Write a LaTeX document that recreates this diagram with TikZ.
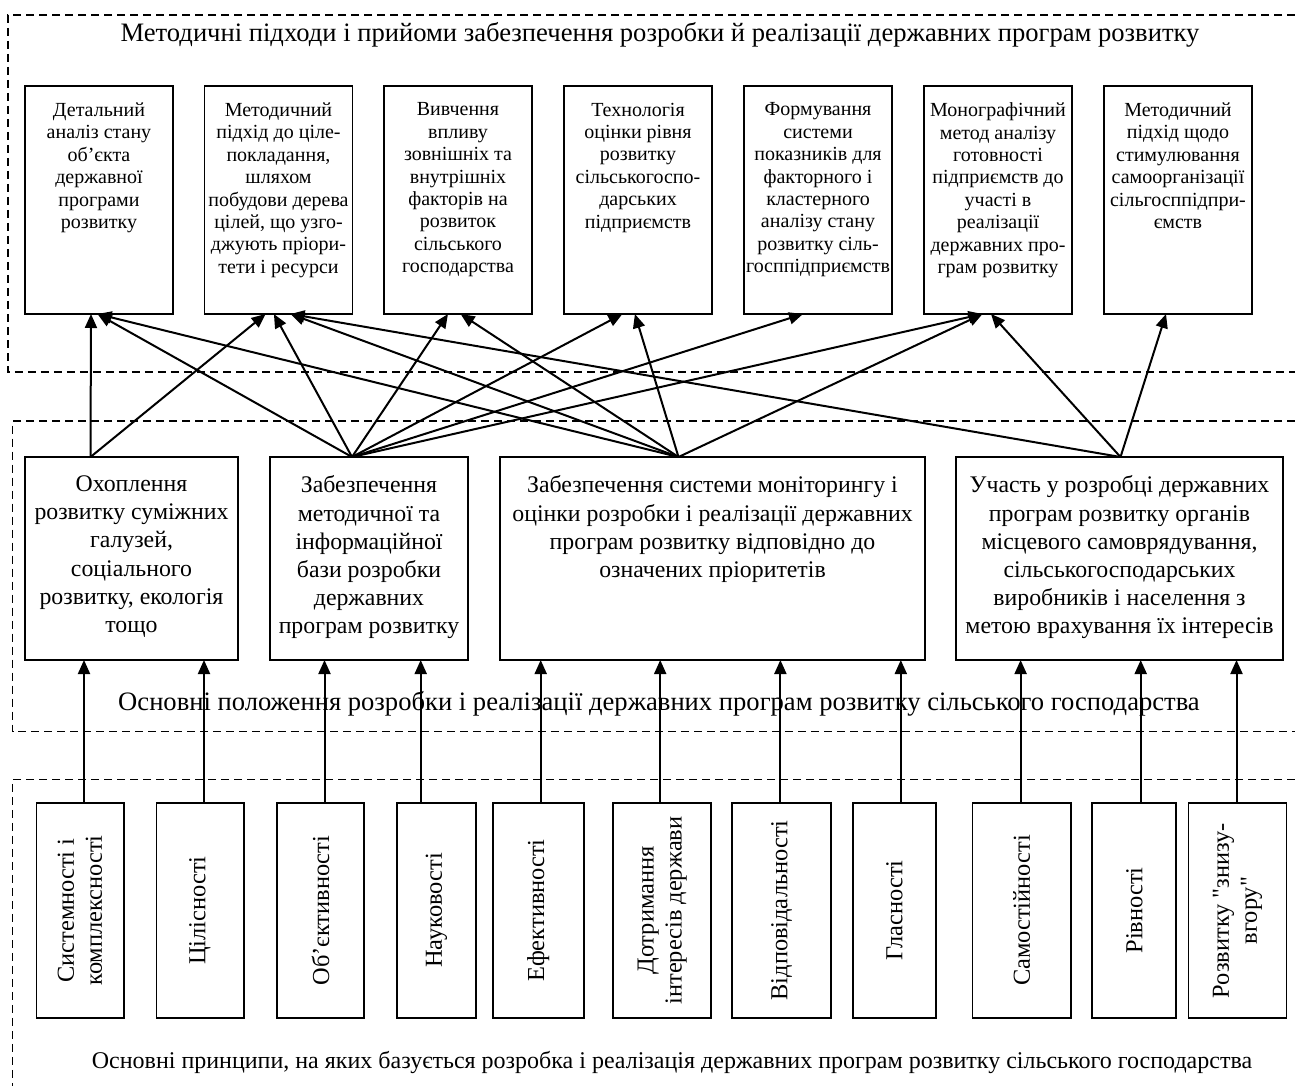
\documentclass[tikz,border=0pt]{standalone}
\usepackage{fontspec}
\setmainfont{Liberation Serif}
\newfontfamily\plainquote{Liberation Serif}
\usetikzlibrary{arrows.meta}
\begin{document}
\begin{tikzpicture}[x=0.5pt,y=-0.5pt,
  frameline/.style={line width=0.75pt, dash pattern=on 4pt off 2.5pt},
  tbox/.style={draw, line width=0.9pt, minimum width=74pt, minimum height=114pt, inner sep=0pt, outer sep=0pt},
  ttext/.style={anchor=north, inner sep=0pt, align=center, font=\fontsize{10}{11.2}\selectfont},
  mbox/.style={draw, line width=0.9pt, minimum height=101.5pt, inner sep=0pt, outer sep=0pt},
  mtext/.style={anchor=north, inner sep=0pt, align=center, font=\fontsize{11.9}{14.1}\selectfont},
  bbox/.style={draw, line width=0.9pt, minimum height=107.8pt, inner sep=0pt, outer sep=0pt},
  btext/.style={rotate=90, inner sep=0pt, align=center, font=\fontsize{12.2}{14}\selectfont},
  titletext/.style={anchor=base, inner sep=0pt, font=\fontsize{13.3}{15}\selectfont},
  arr/.style={line width=1pt, -{Triangle[length=7pt,width=6pt]}},
]
\useasboundingbox (0,0) rectangle (1295,1086);

% frames
\draw[frameline] (1295,15) -- (8,15) -- (8,372) -- (1295,372);
\draw[frameline] (1295,421) -- (12.5,421) -- (12.5,731.7) -- (1295,731.7);
\draw[frameline] (1295,779.3) -- (12.5,779.3) -- (12.5,1086);

% titles
\node[titletext] (title1) at (660,41.5) {Методичні підходи і прийоми забезпечення розробки й реалізації державних програм розвитку};
\node[titletext] (title2) at (659,710.7) {Основні положення розробки і реалізації державних програм розвитку сільського господарства};
\node[titletext, font=\fontsize{12}{14}\selectfont] (title3) at (672,1068.3) {Основні принципи, на яких базується розробка і реалізація державних програм розвитку сільського господарства};

% top boxes
\node[tbox] (t1) at (99,200) {};
\node[tbox] (t2) at (278.5,200) {};
\node[tbox] (t3) at (458,200) {};
\node[tbox] (t4) at (638,200) {};
\node[tbox] (t5) at (818,200) {};
\node[tbox] (t6) at (998,200) {};
\node[tbox] (t7) at (1178,200) {};
\node[ttext] (tt1) at ([yshift=-8.2pt]t1.north) {Детальний\\аналіз стану\\об’єкта\\державної\\програми\\розвитку};
\node[ttext] (tt2) at ([yshift=-8.2pt]t2.north) {Методичний\\підхід до ціле-\\покладання,\\шляхом\\побудови дерева\\цілей, що узго-\\джують пріори-\\тети і ресурси};
\node[ttext] (tt3) at ([yshift=-8.2pt]t3.north) {Вивчення\\впливу\\зовнішніх та\\внутрішніх\\факторів на\\розвиток\\сільського\\господарства};
\node[ttext] (tt4) at ([yshift=-8.2pt]t4.north) {Технологія\\оцінки рівня\\розвитку\\сільськогоспо-\\дарських\\підприємств};
\node[ttext] (tt5) at ([yshift=-8.2pt]t5.north) {Формування\\системи\\показників для\\факторного і\\кластерного\\аналізу стану\\розвитку сіль-\\госппідприємств};
\node[ttext] (tt6) at ([yshift=-8.2pt]t6.north) {Монографічний\\метод аналізу\\готовності\\підприємств до\\участі в\\реалізації\\державних про-\\грам розвитку};
\node[ttext] (tt7) at ([yshift=-8.2pt]t7.north) {Методичний\\підхід щодо\\стимулювання\\самоорганізації\\сільгосппідпри-\\ємств};

% middle boxes
\node[mbox, minimum width=106.5pt] (m1) at (131.5,558.5) {};
\node[mbox, minimum width=99pt] (m2) at (369,558.5) {};
\node[mbox, minimum width=212.5pt] (m3) at (712.5,558.5) {};
\node[mbox, minimum width=163.5pt] (m4) at (1119.5,558.5) {};
\node[mtext] (mt1) at ([yshift=-9.2pt]m1.north) {Охоплення\\розвитку суміжних\\галузей,\\соціального\\розвитку, екологія\\тощо};
\node[mtext] (mt2) at ([yshift=-9.2pt]m2.north) {Забезпечення\\методичної та\\інформаційної\\бази розробки\\державних\\програм розвитку};
\node[mtext] (mt3) at ([yshift=-9.2pt]m3.north) {Забезпечення системи моніторингу і\\оцінки розробки і реалізації державних\\програм розвитку відповідно до\\означених пріоритетів};
\node[mtext] (mt4) at ([yshift=-9.2pt]m4.north) {Участь у розробці державних\\програм розвитку органів\\місцевого самоврядування,\\сільськогосподарських\\виробників і населення з\\метою врахування їх інтересів};

% bottom boxes
\node[bbox, minimum width=43.6pt] (b1) at (80,910.5) {};
\node[bbox, minimum width=43.6pt] (b2) at (200,910.5) {};
\node[bbox, minimum width=43.75pt] (b3) at (320.5,910.5) {};
\node[bbox, minimum width=39.6pt] (b4) at (436.3,910.5) {};
\node[bbox, minimum width=45.45pt] (b5) at (538.3,910.5) {};
\node[bbox, minimum width=48.85pt] (b6) at (662.2,910.5) {};
\node[bbox, minimum width=49.3pt] (b7) at (781.6,910.5) {};
\node[bbox, minimum width=41.8pt] (b8) at (894.4,910.5) {};
\node[bbox, minimum width=49.1pt] (b9) at (1021.6,910.5) {};
\node[bbox, minimum width=41.95pt] (b10) at (1134.3,910.5) {};
\node[bbox, minimum width=49.05pt] (b11) at (1237.5,910.5) {};
\node[btext] (bt1) at (b1.center) {Системності і\\комплексності};
\node[btext] (bt2) at (b2.center) {Цілісності};
\node[btext] (bt3) at (b3.center) {Об’єктивності};
\node[btext] (bt4) at (b4.center) {Науковості};
\node[btext] (bt5) at (b5.center) {Ефективності};
\node[btext] (bt6) at (b6.center) {Дотримання\\інтересів держави};
\node[btext] (bt7) at (b7.center) {Відповідальності};
\node[btext] (bt8) at (b8.center) {Гласності};
\node[btext] (bt9) at (b9.center) {Самостійності};
\node[btext] (bt10) at (b10.center) {Рівності};
\node[btext] (bt11) at (b11.center) {\plainquote Розвитку "знизу-\\\plainquote вгору"};

% sources on middle boxes
\coordinate (s1) at ([xshift=-20.5pt]m1.north);
\coordinate (s2) at ([xshift=-8.5pt]m2.north);
\coordinate (s3) at ([xshift=-17pt]m3.north);
\coordinate (s4) at ([xshift=0.5pt]m4.north);

% arrows middle -> top
\draw[arr] (s1) -- ([xshift=-4pt]t1.south);
\draw[arr] (s1) -- ([xshift=-6.45pt]t2.south);
\draw[arr] (s2) -- ([xshift=-0.75pt]t1.south);
\draw[arr] (s2) -- ([xshift=-2.3pt]t2.south);
\draw[arr] (s2) -- ([xshift=-5pt]t3.south);
\draw[arr] (s2) -- ([xshift=-7.8pt]t4.south);
\draw[arr] (s2) -- ([xshift=-7.5pt]t5.south);
\draw[arr] (s2) -- ([xshift=-7.75pt]t6.south);
\draw[arr] (s3) -- ([xshift=-0.75pt]t1.south);
\draw[arr] (s3) -- ([xshift=6pt]t2.south);
\draw[arr] (s3) -- ([xshift=1.3pt]t3.south);
\draw[arr] (s3) -- ([xshift=-1.55pt]t4.south);
\draw[arr] (s3) -- ([xshift=-7.75pt]t6.south);
\draw[arr] (s4) -- ([xshift=6pt]t2.south);
\draw[arr] (s4) -- ([xshift=-3.5pt]t6.south);
\draw[arr] (s4) -- ([xshift=-6pt]t7.south);

% arrows bottom -> middle
\coordinate (v1) at ([xshift=2pt]b1.north);
\coordinate (v2) at ([xshift=2pt]b2.north);
\coordinate (v3) at ([xshift=2pt]b3.north);
\coordinate (v4) at ([xshift=-7.8pt]b4.north);
\coordinate (v5) at ([xshift=1.2pt]b5.north);
\coordinate (v6) at ([xshift=-1pt]b6.north);
\coordinate (v7) at ([xshift=-0.6pt]b7.north);
\coordinate (v8) at ([xshift=3.2pt]b8.north);
\coordinate (v9) at ([xshift=-0.5pt]b9.north);
\coordinate (v10) at ([xshift=3.2pt]b10.north);
\coordinate (v11) at ([xshift=-0.5pt]b11.north);
\draw[arr] (v1) -- (v1 |- m1.south);
\draw[arr] (v2) -- (v2 |- m1.south);
\draw[arr] (v3) -- (v3 |- m2.south);
\draw[arr] (v4) -- (v4 |- m2.south);
\draw[arr] (v5) -- (v5 |- m3.south);
\draw[arr] (v6) -- (v6 |- m3.south);
\draw[arr] (v7) -- (v7 |- m3.south);
\draw[arr] (v8) -- (v8 |- m3.south);
\draw[arr] (v9) -- (v9 |- m4.south);
\draw[arr] (v10) -- (v10 |- m4.south);
\draw[arr] (v11) -- (v11 |- m4.south);
\end{tikzpicture}
\end{document}
